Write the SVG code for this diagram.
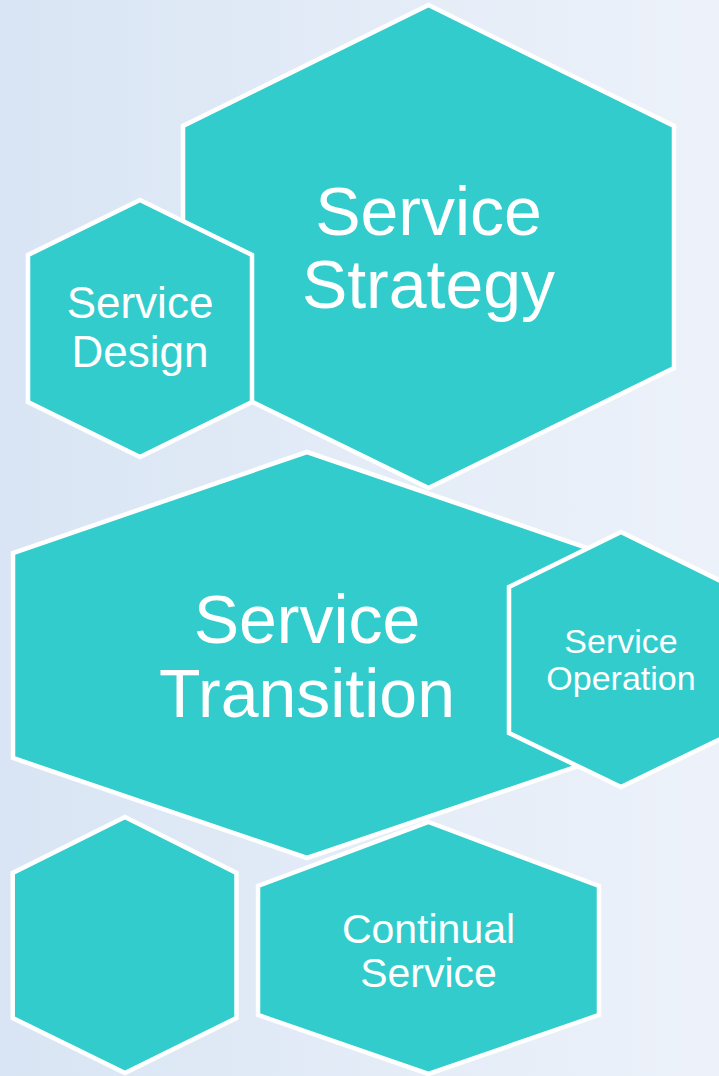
<svg xmlns="http://www.w3.org/2000/svg" width="719" height="1076" viewBox="0 0 719 1076">
  <defs>
    <linearGradient id="bg" x1="0" y1="0" x2="1" y2="0">
      <stop offset="0" stop-color="#D9E5F4"/>
      <stop offset="1" stop-color="#EDF2FA"/>
    </linearGradient>
    <style>
      .hex { fill: #33CCCC; stroke: #FFFFFF; stroke-width: 4.5; stroke-linejoin: miter; }
      .lbl { fill: #FFFFFF; font-family: "Liberation Sans", Arial, sans-serif; text-anchor: middle; }
    </style>
  </defs>
  <rect x="0" y="0" width="719" height="1076" fill="url(#bg)"/>

  <g id="service-strategy">
    <polygon class="hex" points="428.5,5 674,126 674,368 428.5,488 183,368 183,126"/>
    <text class="lbl" x="428.5" y="235" font-size="68">Service</text>
    <text class="lbl" x="428.5" y="308" font-size="68">Strategy</text>
  </g>

  <g id="service-design">
    <polygon class="hex" points="140,200 252,255 252,402 140,457 28,402 28,255"/>
    <text class="lbl" x="140" y="318" font-size="44">Service</text>
    <text class="lbl" x="140" y="367" font-size="44">Design</text>
  </g>

  <g id="service-transition">
    <polygon class="hex" points="307,452 602,553 602,758 307,858 13,758 13,553"/>
    <text class="lbl" x="307" y="643" font-size="68">Service</text>
    <text class="lbl" x="307" y="717" font-size="68">Transition</text>
  </g>

  <g id="service-operation">
    <polygon class="hex" points="621,532 733,587 733,733 621,787 509,733 509,587"/>
    <text class="lbl" x="621" y="653" font-size="34">Service</text>
    <text class="lbl" x="621" y="690" font-size="34">Operation</text>
  </g>

  <g id="continual-service">
    <polygon class="hex" points="428.5,822 599,886 599,1015 428.5,1074 258,1015 258,886"/>
    <text class="lbl" x="428.5" y="943" font-size="41">Continual</text>
    <text class="lbl" x="428.5" y="987" font-size="41">Service</text>
  </g>

  <g id="empty-hexagon">
    <polygon class="hex" points="125,817 236.5,873 236.5,1018 125,1073 12.7,1018 12.7,873"/>
  </g>

  <g id="connectors"/>
</svg>
